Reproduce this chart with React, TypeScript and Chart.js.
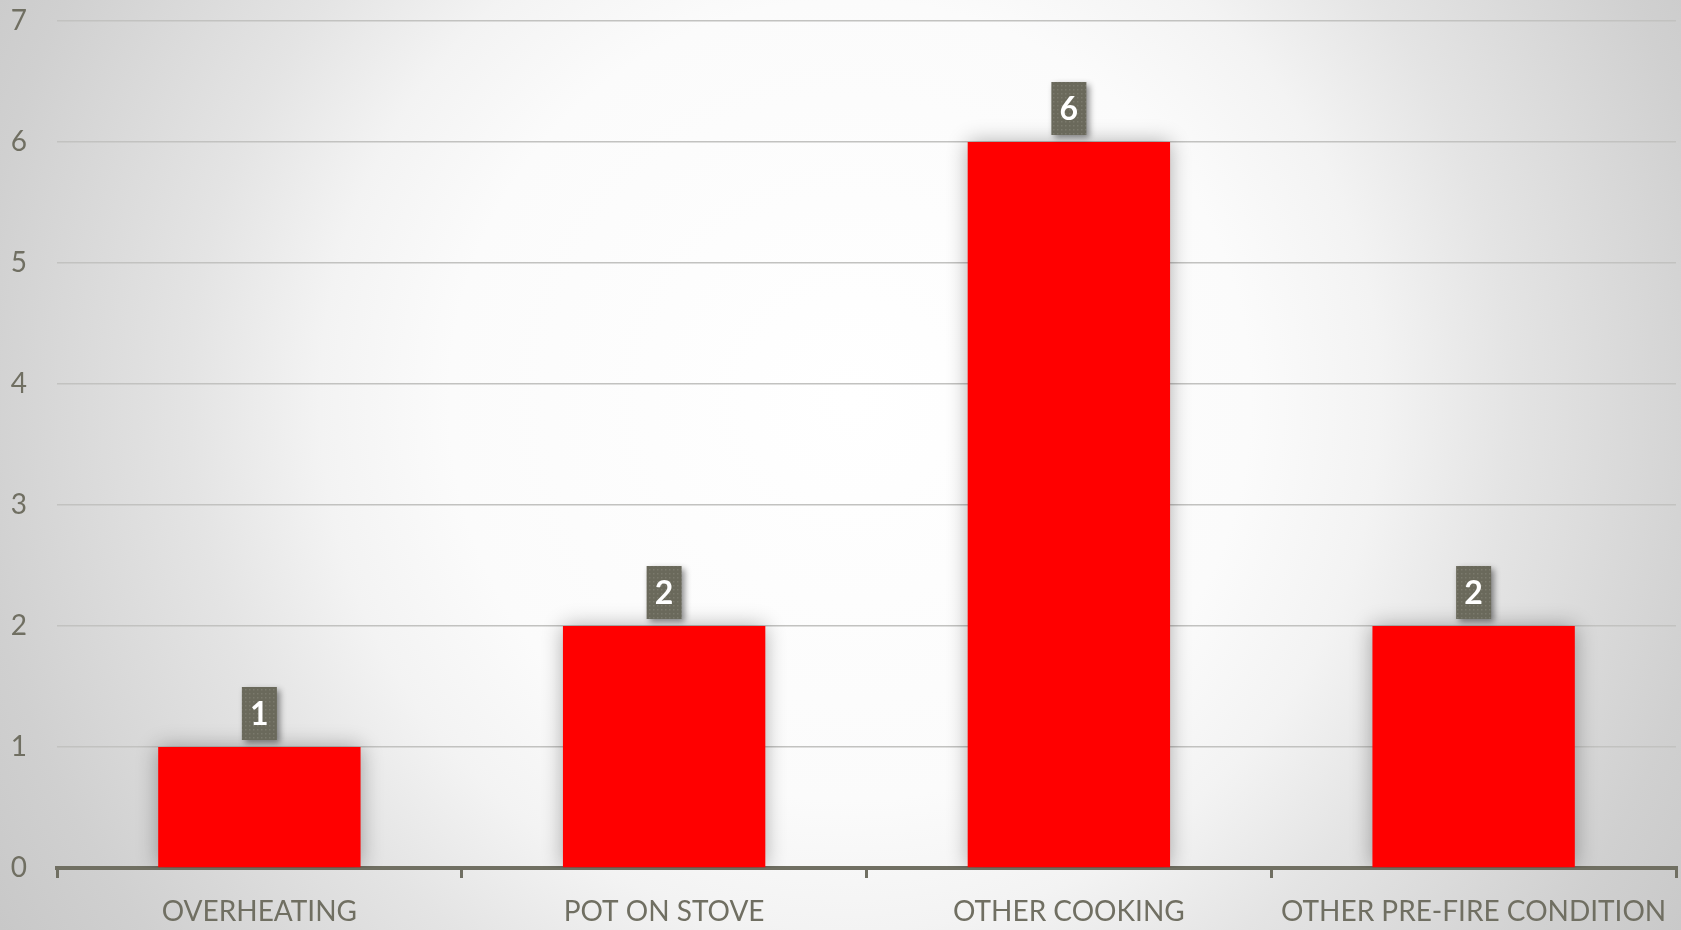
import React, { useEffect, useRef } from 'react';
import { Chart, registerables } from 'chart.js';

Chart.register(...registerables);

// Fire cause counts
const categories = ['OVERHEATING', 'POT ON STOVE', 'OTHER COOKING', 'OTHER PRE-FIRE CONDITION'];
const fireCounts = [1, 2, 6, 2];
const yMin = 0;
const yMax = 7;
const yStep = 1;

const INK = '#706f62';
const FONT = 'Lato, "Open Sans", sans-serif';

// Soft silver radial backdrop behind the whole chart
const backdrop = {
  id: 'backdrop',
  beforeDraw(chart: any) {
    const { ctx, width, height } = chart;
    const cx = 850;
    const cy = 400;
    ctx.save();
    const g = ctx.createRadialGradient(cx, cy, 0, cx, cy, 1000);
    g.addColorStop(0, '#ffffff');
    g.addColorStop(0.4, '#fbfbfb');
    g.addColorStop(0.53, '#f3f3f3');
    g.addColorStop(0.66, '#e4e4e4');
    g.addColorStop(0.88, '#d0d0d0');
    g.addColorStop(1, '#c8c8c8');
    ctx.fillStyle = g;
    ctx.fillRect(0, 0, width, height);
    ctx.restore();
  },
};

// Soft grey glow around the bars
const barGlow = {
  id: 'barGlow',
  beforeDatasetsDraw(chart: any) {
    const c = chart.ctx;
    c.save();
    c.shadowColor = 'rgba(0,0,0,0.32)';
    c.shadowBlur = 20;
    c.shadowOffsetX = 0;
    c.shadowOffsetY = 0;
  },
  afterDatasetsDraw(chart: any) {
    chart.ctx.restore();
  },
};

function makeDotPattern(ctx: CanvasRenderingContext2D) {
  const tile = document.createElement('canvas');
  tile.width = 4;
  tile.height = 4;
  const t = tile.getContext('2d')!;
  t.fillStyle = '#6a695b';
  t.fillRect(0, 0, 4, 4);
  t.fillStyle = '#7b7a6d';
  t.fillRect(1, 1, 1.5, 1.5);
  return ctx.createPattern(tile, 'repeat');
}

// Value callouts: dark dotted boxes above each bar
const valueBoxes = {
  id: 'valueBoxes',
  afterDraw(chart: any) {
    const { ctx } = chart;
    const meta = chart.getDatasetMeta(0);
    const pattern = makeDotPattern(ctx);
    const w = 35;
    const h = 53;
    meta.data.forEach((bar: any, i: number) => {
      const { x, y } = bar.getProps(['x', 'y'], true);
      const left = x - w / 2;
      const top = y - 7 - h;
      ctx.save();
      ctx.shadowColor = 'rgba(0,0,0,0.45)';
      ctx.shadowBlur = 6;
      ctx.shadowOffsetX = 3;
      ctx.shadowOffsetY = 3;
      ctx.fillStyle = pattern || '#6a695b';
      ctx.fillRect(left, top, w, h);
      ctx.restore();
      ctx.save();
      ctx.fillStyle = '#ffffff';
      ctx.font = `bold 32px ${FONT}`;
      ctx.textAlign = 'center';
      ctx.textBaseline = 'middle';
      ctx.fillText(String(fireCounts[i]), x, top + h / 2 + 1);
      ctx.restore();
    });
  },
};

export default function App() {
  const ref = useRef<HTMLCanvasElement>(null);

  useEffect(() => {
    document.body.style.margin = '0';
    const chart = new Chart(ref.current!, {
      type: 'bar',
      data: {
        labels: categories,
        datasets: [
          {
            data: fireCounts,
            backgroundColor: '#ff0000',
            borderWidth: 0,
            categoryPercentage: 1,
            barPercentage: 0.5,
          },
        ],
      },
      options: {
        responsive: false,
        animation: false,
        layout: { padding: { top: 21, right: 5, bottom: 0, left: 0 } },
        plugins: {
          legend: { display: false },
          tooltip: { enabled: false },
        },
        scales: {
          x: {
            z: 1,
            offset: true,
            grid: {
              offset: true,
              drawOnChartArea: false,
              drawTicks: true,
              tickLength: 10,
              tickWidth: 3,
              tickColor: INK,
              color: INK,
              lineWidth: 3,
            },
            border: { display: true, color: INK, width: 4 },
            ticks: {
              color: INK,
              font: { family: FONT, size: 28 },
              padding: 17,
              maxRotation: 0,
              autoSkip: false,
            },
            afterFit(scale: any) {
              scale.height = 62;
              scale.paddingLeft = 0;
              scale.paddingRight = 0;
            },
          },
          y: {
            min: yMin,
            max: yMax,
            grid: {
              color: '#c2c2c0',
              lineWidth: 1.5,
              drawTicks: false,
            },
            border: { display: false },
            ticks: {
              stepSize: yStep,
              color: INK,
              font: { family: FONT, size: 28 },
              padding: 30,
            },
            afterFit(scale: any) {
              scale.width = 57;
              scale.paddingTop = 0;
              scale.paddingBottom = 0;
            },
          },
        },
      },
      plugins: [backdrop, barGlow, valueBoxes],
    });
    (document as any).fonts?.load(`28px Lato`).then(() => chart.update());
    return () => chart.destroy();
  }, []);

  return (
    <div style={{ width: 1681, height: 930 }}>
      <canvas ref={ref} width={1681} height={930} style={{ display: 'block', width: 1681, height: 930 }} />
    </div>
  );
}
